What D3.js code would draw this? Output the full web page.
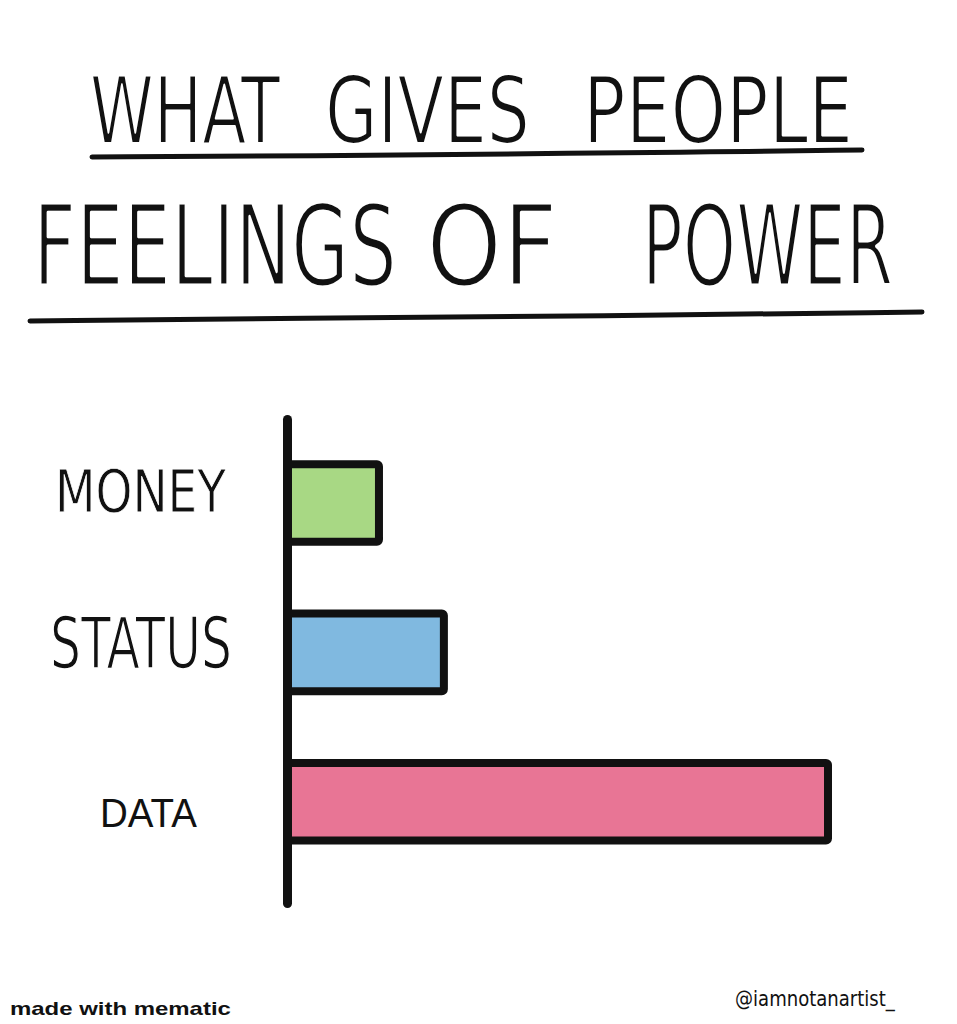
<!DOCTYPE html>
<html>
<head>
<meta charset="utf-8">
<script src="https://cdn.jsdelivr.net/npm/d3@7/dist/d3.min.js"></script>
<style>
  html, body { margin: 0; padding: 0; background: #ffffff; }
  svg { display: block; }
</style>
</head>
<body>
<script>
// ---- data ----
const titleLine1 = ["WHAT", "GIVES", "PEOPLE"];
const titleLine2 = ["FEELINGS", "OF", "POWER"];
const categories = ["MONEY", "STATUS", "DATA"];
const values = [17, 29, 100];
const barColors = ["#a8d884", "#80b9e0", "#e87595"];
const footerLeft = "made with mematic";
const footerRight = "@iamnotanartist_";

// ---- layout ----
const W = 957, H = 1024;
const svg = d3.select("body").append("svg").attr("width", W).attr("height", H)
  .style("background", "#fff");

const handFont = "'DejaVu Sans Condensed', 'DejaVu Sans', sans-serif";

// squeeze/stretch a text horizontally so it spans [x0, x1] with baseline y
function fitText(sel, x0, x1, y) {
  sel.attr("x", 0).attr("y", 0);
  const node = sel.node();
  const w = node.getComputedTextLength();
  const k = (x1 - x0) / w;
  sel.attr("transform", `translate(${x0},${y}) scale(${k},1)`);
}

// Title words (hand-lettered look: condensed sans, thinned with a white outline)
const line1Spec = { y: 143, size: 92, thin: 2.2, spans: [[90, 280], [325, 530], [583, 853]] };
const line2Spec = { y: 285, size: 112, thin: 3, spans: [[33, 397], [426, 558], [642, 893]] };
[[titleLine1, line1Spec], [titleLine2, line2Spec]].forEach(([words, s]) => {
  words.forEach((wd, i) => {
    const t = svg.append("text")
      .attr("font-family", handFont)
      .attr("font-size", s.size)
      .attr("fill", "#111")
      .attr("stroke", "#fff")
      .attr("stroke-width", s.thin)
      .attr("stroke-linejoin", "round")
      .text(wd);
    fitText(t, s.spans[i][0], s.spans[i][1], s.y);
  });
});

// Underlines (slightly hand-drawn)
const line = d3.line().curve(d3.curveBasis);
svg.append("path")
  .attr("d", line([[92, 157], [300, 156], [600, 153], [700, 152], [862, 150]]))
  .attr("fill", "none").attr("stroke", "#111").attr("stroke-width", 5).attr("stroke-linecap", "round");
svg.append("path")
  .attr("d", line([[30, 321], [300, 318], [600, 316], [922, 312]]))
  .attr("fill", "none").attr("stroke", "#111").attr("stroke-width", 5).attr("stroke-linecap", "round");

// Scales
const x = d3.scaleLinear().domain([0, 100]).range([287, 828]);
const y = d3.scaleBand().domain(categories).range([419, 903])
  .paddingInner(0.48).paddingOuter(0.36).align(0.42);

// Bars
svg.append("g").selectAll("rect")
  .data(categories)
  .join("rect")
  .attr("x", x(0))
  .attr("y", d => y(d))
  .attr("width", (d, i) => x(values[i]) - x(0))
  .attr("height", y.bandwidth())
  .attr("fill", (d, i) => barColors[i])
  .attr("stroke", "#111")
  .attr("stroke-width", 8)
  .attr("stroke-linejoin", "round")
  .attr("rx", 2);

// Axis
const axis = svg.append("g")
  .attr("transform", `translate(${x(0)},0)`)
  .call(d3.axisLeft(y).tickSize(0).tickSizeOuter(0).tickFormat(""));
axis.select(".domain")
  .attr("stroke", "#111").attr("stroke-width", 9).attr("stroke-linecap", "round");

// Category labels
const labelSpecs = {
  MONEY: { end: 226, len: 171, size: 58, dy: 9, font: handFont, thin: 0.8 },
  STATUS: { end: 232, len: 182, size: 72, dy: 16, font: handFont, thin: 1.6 },
  DATA: { end: 197, len: 97, size: 40, dy: 25, font: "'Liberation Sans', Arial, sans-serif", thin: 0 }
};
const labelG = svg.append("g");
categories.forEach(c => {
  const s = labelSpecs[c];
  const t = labelG.append("text")
    .attr("font-family", s.font)
    .attr("font-size", s.size)
    .attr("fill", "#111")
    .attr("stroke", s.thin ? "#fff" : "none")
    .attr("stroke-width", s.thin)
    .text(c);
  fitText(t, s.end - s.len, s.end, y(c) + y.bandwidth() / 2 + s.dy);
});

// Footer
const fl = svg.append("text")
  .attr("font-family", "'Liberation Sans', Arial, sans-serif")
  .attr("font-weight", "bold").attr("font-size", 19)
  .attr("fill", "#111")
  .text(footerLeft);
fitText(fl, 10, 231, 1015);

const fr = svg.append("text")
  .attr("font-family", handFont)
  .attr("font-size", 22)
  .attr("fill", "#111")
  .text(footerRight);
fitText(fr, 735, 895, 1006);
</script>
</body>
</html>
